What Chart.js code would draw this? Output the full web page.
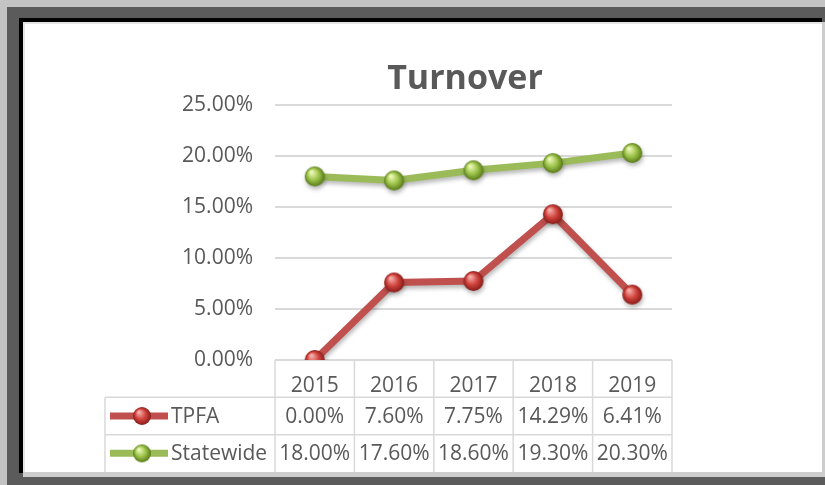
<!DOCTYPE html>
<html>
<head>
<meta charset="utf-8">
<script src="https://cdn.jsdelivr.net/npm/chart.js@4.4.1/dist/chart.umd.min.js"></script>
<style>
  html,body{margin:0;padding:0;}
  body{width:825px;height:485px;background:#c3c3c3;position:relative;overflow:hidden;}
  .f{position:absolute;}
  #dark{left:7px;top:7px;width:818px;height:478px;background:#5b5b5b;}
  #black{left:19px;top:18px;width:803px;height:455px;background:#000;}
  #light{left:23px;top:22px;width:802px;height:455px;background:#cdcdcd;}
  #white{left:23px;top:22px;width:799px;height:450px;background:#fff;box-sizing:border-box;border-left:2px solid #e4e4e4;border-top:2px solid #e4e4e4;}
  #c{position:absolute;left:0;top:0;}
</style>
</head>
<body>
<div class="f" id="dark"></div>
<div class="f" id="black"></div>
<div class="f" id="light"></div>
<div class="f" id="white"></div>
<canvas id="c" width="825" height="485"></canvas>
<script>
// ---- data ----
const years = ['2015', '2016', '2017', '2018', '2019'];
const tpfa = [0.00, 7.60, 7.75, 14.29, 6.41];
const statewide = [18.00, 17.60, 18.60, 19.30, 20.30];
const seriesNames = ['TPFA', 'Statewide'];
const yMin = 0, yMax = 25, yStep = 5;
const chartTitle = 'Turnover';

// ---- styles ----
const TEXT = '#595959';
const FONT = "'Open Sans', 'Liberation Sans', sans-serif";
const RED = '#c0504d', GREEN = '#9bbb59';

function sphere(light, base, dark, r) {
  const s = 2 * r + 2;
  const c = document.createElement('canvas');
  c.width = s; c.height = s;
  const g = c.getContext('2d');
  const cx = s / 2, cy = s / 2;
  const grad = g.createRadialGradient(cx - r * 0.35, cy - r * 0.45, r * 0.08, cx, cy, r);
  grad.addColorStop(0, light);
  grad.addColorStop(0.55, base);
  grad.addColorStop(1, dark);
  g.fillStyle = grad;
  g.beginPath(); g.arc(cx, cy, r, 0, Math.PI * 2); g.fill();
  return c;
}
const redBall = sphere('#f6b0ac', '#d0413c', '#861c18', 10);
const greenBall = sphere('#eefab8', '#9cc24a', '#587a17', 10);
const legendBalls = [sphere('#f6b0ac', '#d0413c', '#861c18', 9), sphere('#eefab8', '#9cc24a', '#587a17', 9)];

const seriesData = [tpfa, statewide];
const seriesColors = [RED, GREEN];

const fmt = v => v.toFixed(2) + '%';

const shadowPlugin = {
  id: 'shadow',
  beforeDatasetsDraw(chart) {
    const ctx = chart.ctx;
    ctx.save();
    ctx.shadowColor = 'rgba(0,0,0,0.28)';
    ctx.shadowBlur = 4;
    ctx.shadowOffsetX = 1;
    ctx.shadowOffsetY = 3;
  },
  afterDatasetsDraw(chart) { chart.ctx.restore(); }
};

const titlePlugin = {
  id: 'excelTitle',
  afterDraw(chart) {
    const ctx = chart.ctx;
    ctx.save();
    ctx.font = 'bold 34px ' + FONT;
    ctx.fillStyle = TEXT;
    ctx.textAlign = 'center';
    ctx.textBaseline = 'alphabetic';
    ctx.fillText(chartTitle, 465, 89);
    ctx.restore();
  }
};

const tablePlugin = {
  id: 'dataTable',
  beforeDatasetsDraw(chart) {
    const { ctx, chartArea: ca, scales: { x } } = chart;
    const n = years.length;
    const cw = (ca.right - ca.left) / n;
    const top = ca.bottom;
    const bottom = chart.height - 13;
    const rowH = (bottom - top) / 3;
    const legendLeft = 105;
    ctx.save();
    ctx.strokeStyle = '#d9d9d9';
    ctx.lineWidth = 1.5;
    ctx.beginPath();
    ctx.moveTo(ca.left, top); ctx.lineTo(ca.right, top);
    for (let r = 1; r <= 2; r++) {
      ctx.moveTo(legendLeft, top + rowH * r); ctx.lineTo(ca.right, top + rowH * r);
    }
    for (let i = 0; i <= n; i++) {
      const xi = ca.left + i * cw;
      ctx.moveTo(xi, top); ctx.lineTo(xi, bottom);
    }
    ctx.moveTo(legendLeft, top + rowH); ctx.lineTo(legendLeft, bottom);
    ctx.stroke();

    ctx.font = '21px ' + FONT;
    ctx.fillStyle = TEXT;
    ctx.textBaseline = 'middle';
    seriesData.forEach((vals, s) => {
      const cy = top + rowH * (s + 1) + rowH / 2 + 1;
      ctx.textAlign = 'center';
      vals.forEach((v, i) => {
        ctx.fillText(fmt(v), x.getPixelForValue(i), cy);
      });
      // legend key
      ctx.strokeStyle = seriesColors[s];
      ctx.lineWidth = 7;
      ctx.beginPath();
      ctx.moveTo(legendLeft + 5, cy - 1); ctx.lineTo(legendLeft + 63, cy - 1);
      ctx.stroke();
      const b = legendBalls[s];
      ctx.drawImage(b, legendLeft + 37 - b.width / 2, cy - 1 - b.height / 2);
      ctx.textAlign = 'left';
      ctx.fillText(seriesNames[s], legendLeft + 66, cy);
    });
    ctx.restore();
  }
};

Chart.defaults.font.family = FONT;
Chart.defaults.color = TEXT;

new Chart(document.getElementById('c'), {
  type: 'line',
  data: {
    labels: years,
    datasets: [
      {
        label: seriesNames[0], data: tpfa,
        borderColor: RED, borderWidth: 7, tension: 0,
        pointStyle: redBall, pointRadius: 10, pointHoverRadius: 10
      },
      {
        label: seriesNames[1], data: statewide,
        borderColor: GREEN, borderWidth: 7, tension: 0,
        pointStyle: greenBall, pointRadius: 10, pointHoverRadius: 10
      }
    ]
  },
  options: {
    responsive: false,
    animation: false,
    events: [],
    layout: { padding: { top: 105, left: 23, right: 153, bottom: 13 } },
    plugins: {
      legend: { display: false },
      tooltip: { enabled: false },
      title: { display: false }
    },
    scales: {
      x: {
        offset: true,
        grid: { display: false },
        border: { display: false },
        ticks: { font: { size: 21 }, color: TEXT, padding: 5 },
        afterFit(s) { s.height = 112; }
      },
      y: {
        min: yMin, max: yMax,
        grid: { color: '#d9d9d9', lineWidth: 2, drawTicks: false },
        border: { display: false },
        ticks: {
          stepSize: yStep, padding: 22, font: { size: 21 }, color: TEXT,
          callback: v => fmt(v)
        },
        afterFit(s) { s.width = 252; }
      }
    }
  },
  plugins: [tablePlugin, shadowPlugin, titlePlugin]
});
</script>
</body>
</html>
